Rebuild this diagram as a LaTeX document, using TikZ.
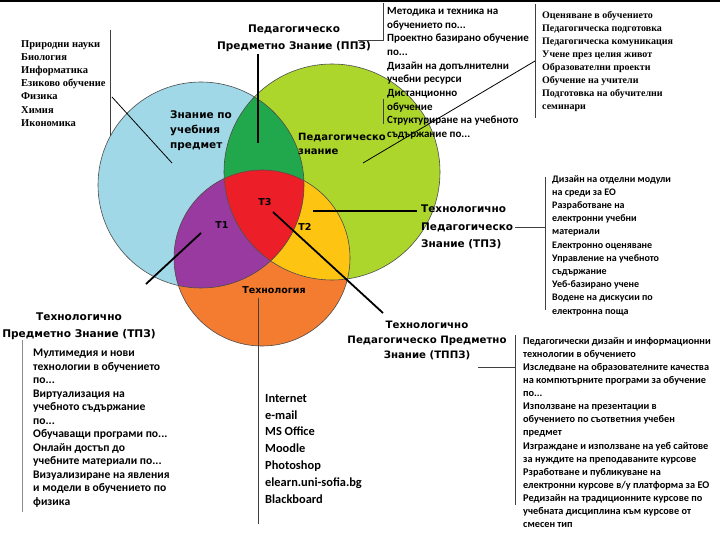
\documentclass[tikz,border=0pt]{standalone}
\usepackage{fontspec}
\setmainfont{Liberation Serif}
\newfontfamily\tfont{DejaVu Sans}
\newfontfamily\cfont{Carlito}
\definecolor{cblue}{RGB}{160,216,232}
\definecolor{cgreen}{RGB}{172,214,44}
\definecolor{cdgreen}{RGB}{34,168,76}
\definecolor{cred}{RGB}{236,30,40}
\definecolor{cpurple}{RGB}{152,58,160}
\definecolor{cyellow}{RGB}{254,196,18}
\definecolor{corange}{RGB}{244,124,48}
\begin{document}
\begin{tikzpicture}[x=1pt,y=-1pt,
  serlist/.style={font=\fontsize{10.5}{13.2}\selectfont\bfseries, align=left, inner sep=0, anchor=north west},
  calist/.style={font=\cfont\fontsize{10}{13.4}\selectfont\bfseries, align=left, inner sep=0, anchor=north west},
  ttl/.style={font=\tfont\fontsize{10.5}{17}\selectfont\bfseries, inner sep=0},
  clab/.style={font=\tfont\fontsize{10.5}{15}\selectfont\bfseries, align=left, inner sep=0, anchor=north west},
  tlab/.style={font=\tfont\fontsize{9.5}{12}\selectfont\bfseries, inner sep=0},
  thick line/.style={line width=1.8pt},
  thin line/.style={line width=0.8pt},
  box line/.style={line width=0.8pt, black!75},
  ring/.style={draw=black!70, line width=0.6pt}]
\useasboundingbox (0,0) rectangle (720,540);
\fill[white] (0,0) rectangle (720,540);
\draw[line width=2pt] (0,1) -- (720,1);
% circles
\def\bluec{(201,185) circle [radius=103]}
\def\greenc{(332,172) circle [radius=108]}
\def\orangec{(262,258) circle [radius=88]}
\fill[cblue] \bluec;
\fill[cgreen] \greenc;
\begin{scope}\clip \bluec; \fill[cdgreen] \greenc; \end{scope}
\fill[corange] \orangec;
\begin{scope}\clip \bluec; \fill[cpurple] \orangec; \end{scope}
\begin{scope}\clip \greenc; \fill[cyellow] \orangec; \end{scope}
\begin{scope}\clip \bluec; \clip \greenc; \fill[cred] \orangec; \end{scope}
\draw[ring] \bluec; \draw[ring] \greenc; \draw[ring] \orangec;
% circle labels
\node[clab] (zp) at (170,111) {Знание по\\учебния\\предмет};
\node[clab, font=\tfont\fontsize{10}{14.5}\selectfont\bfseries] (pz) at (298,133) {Педагогическо\\знание};
\node[tlab] (t3) at (265,202) {Т3};
\node[tlab] (t1) at (222,225) {Т1};
\node[tlab] (t2) at (305,227) {Т2};
\node[tlab] (tech) at (274,290) {Технология};
% top-left list
\node[serlist] (tl) at (21,40) {Природни науки\\Биология\\Информатика\\Езиково обучение\\Физика\\Химия\\Икономика};
\coordinate (tlb1) at (110,30); \coordinate (tlb2) at (110,136);
\draw[box line] (tlb1) -- (tlb2);
\coordinate (tld1) at (112,97); \coordinate (tld2) at (172,163);
\draw[thin line] (tld1) -- (tld2);
% PPZ title
\node[ttl, align=center] (ppz) at (294,38.5) {Педагогическо\\Предметно Знание (ППЗ)};
\coordinate (ppzv1) at (258,54); \coordinate (ppzv2) at (258,143);
\draw[thick line] (ppzv1) -- (ppzv2);
\coordinate (ppzh1) at (358,40); \coordinate (ppzh2) at (383,40); \coordinate (ppzh3) at (383,3);
\draw[box line] (ppzh1) -- (ppzh2) -- (ppzh3);
\coordinate (mlv1) at (383,99); \coordinate (mlv2) at (383,124);
\draw[box line] (mlv1) -- (mlv2);
% middle-top list
\node[calist, font=\cfont\fontsize{11}{13.7}\selectfont\bfseries] (ml) at (387,7) {Методика и техника на\\обучението по...\\Проектно базирано обучение\\по...\\Дизайн на допълнителни\\учебни ресурси\\Дистанционно\\обучение\\Структуриране на учебното\\съдържание по...};
% top-right list
\coordinate (trv1) at (535,4); \coordinate (trv2) at (535,118);
\draw[box line] (trv1) -- (trv2);
\node[serlist, font=\fontsize{10}{13}\selectfont\bfseries] (tr) at (542,11) {Оценяване в обучението\\Педагогическа подготовка\\Педагогическа комуникация\\Учене през целия живот\\Образователни проекти\\Обучение на учители\\Подготовка на обучителни\\семинари};
\coordinate (gd1) at (363,163); \coordinate (gd2) at (535,61);
\draw[thin line] (gd1) -- (gd2);
% TPZ right
\coordinate (t2h1) at (313,211); \coordinate (t2h2) at (417,211);
\draw[thick line] (t2h1) -- (t2h2);
\node[ttl, align=left, anchor=north west, font=\tfont\fontsize{10.5}{17.5}\selectfont\bfseries] (tpzr) at (421,205) {Технологично\\Педагогическо\\Знание (ТПЗ)};
\coordinate (rh1) at (515,227); \coordinate (rh2) at (545,227);
\coordinate (rv1) at (545,177); \coordinate (rv2) at (545,310);
\draw[box line] (rh1) -- (rh2);
\draw[box line] (rv1) -- (rv2);
\node[calist, font=\cfont\fontsize{10}{13.2}\selectfont\bfseries] (rl) at (552,175) {Дизайн на отделни модули\\на среди за ЕО\\Разработване на\\електронни учебни\\материали\\Електронно оценяване\\Управление на учебното\\съдържание\\Уеб-базирано учене\\Водене на дискусии по\\електронна поща};
% T1 line and TPZ left
\coordinate (t1d1) at (201,233); \coordinate (t1d2) at (146,284);
\draw[thick line] (t1d1) -- (t1d2);
\node[ttl, align=center, font=\tfont\fontsize{10.6}{17}\selectfont\bfseries] (tpzl) at (79,326.5) {Технологично\\Предметно Знание (ТПЗ)};
\coordinate (blv1) at (22,340); \coordinate (blv2) at (22,512);
\draw[line width=0.6pt, black!45] (blv1) -- (blv2);
\node[calist, font=\cfont\fontsize{11.6}{13.5}\selectfont\bfseries] (bl) at (33,349) {Мултимедия и нови\\технологии в обучението\\по...\\Виртуализация на\\учебното съдържание\\по...\\Обучаващи програми по...\\Онлайн достъп до\\учебните материали по...\\Визуализиране на явления\\и модели в обучението по\\физика};
% bottom center
\coordinate (bcv1) at (258,298); \coordinate (bcv2) at (258,524);
\draw[box line] (bcv1) -- (bcv2);
\node[calist, font=\cfont\fontsize{12.4}{16.8}\selectfont\bfseries] (bc) at (265,394) {Internet\\e-mail\\MS Office\\Moodle\\Photoshop\\elearn.uni-sofia.bg\\Blackboard};
% T3 line and TPPZ
\coordinate (t3d1) at (273,212); \coordinate (t3d2) at (383,313);
\draw[thick line] (t3d1) -- (t3d2);
\node[ttl, align=center, font=\tfont\fontsize{10.2}{15.3}\selectfont\bfseries] (tppz) at (427,340.5) {Технологично\\Педагогическо Предметно\\Знание (ТППЗ)};
\coordinate (brh1) at (478,367); \coordinate (brh2) at (515,367);
\coordinate (brv1) at (515,335); \coordinate (brv2) at (515,505);
\draw[box line] (brh1) -- (brh2);
\draw[box line] (brv1) -- (brv2);
\node[calist, font=\cfont\fontsize{10.3}{13.1}\selectfont\bfseries] (br) at (523,337) {Педагогически дизайн и информационни\\технологии в обучението\\Изследване на образователните качества\\на компютърните програми за обучение\\по...\\Използване на презентации в\\обучението по съответния учебен\\предмет\\Изграждане и използване на уеб сайтове\\за нуждите на преподаваните курсове\\Рзработване и публикуване на\\електронни курсове в/у платформа за ЕО\\Редизайн на традиционните курсове по\\учебната дисциплина към курсове от\\смесен тип};
\end{tikzpicture}
\end{document}
